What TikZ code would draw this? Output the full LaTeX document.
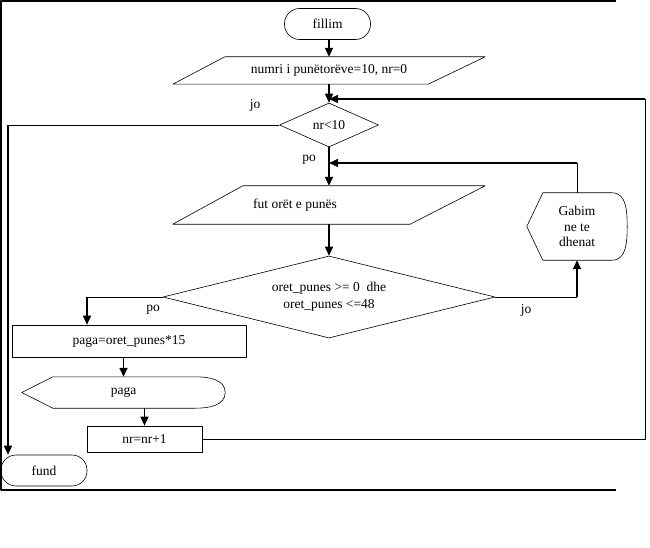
\documentclass[tikz,border=0pt]{standalone}
\usepackage{fontspec}
\setmainfont{Liberation Serif}
\usetikzlibrary{shapes.geometric,arrows.meta}

\begin{document}
\begin{tikzpicture}[x=1pt,y=1pt,line join=round,>={Triangle[length=9pt,width=8pt]},
    font=\fontsize{13.5}{15.5}\selectfont]
  \tikzset{term/.style={draw,line width=0.6pt,rounded corners=15pt,minimum width=86,minimum height=31},
    box/.style={draw,line width=0.6pt,inner sep=0pt},
    cond/.style={draw,line width=0.6pt,diamond,inner sep=0pt,align=center},
    bare/.style={inner sep=0pt,align=center},
    edge/.style={line width=0.6pt},
    flow/.style={->,line width=1.6pt},
    link/.style={line width=0.8pt}}
  \useasboundingbox (0,0) rectangle (650,-548);
  % frame
  \draw[line width=1.5pt] (616,-1) -- (1,-1) -- (1,-490) -- (616,-490);

  % main column
  \node[term] (start) at (327.5,-24) {fillim};
  \node[bare,minimum width=312,minimum height=27] (init) at (329,-70.5) {numri i punëtorëve=10, nr=0};
  \draw[edge] (init.south west) -- ([xshift=-57]init.south east) -- (init.north east) -- ([xshift=52]init.north west) -- cycle;
  \node[cond,aspect=2.25,minimum width=99,minimum height=44] (cnt) at (329,-125) {nr<10};
  \node[bare,minimum width=312,minimum height=38] (read) at (329,-205) {};
  \draw[edge] (read.south west) -- ([xshift=-75]read.south east) -- (read.north east) -- ([xshift=70]read.north west) -- cycle;
  \node (readtxt) at ([xshift=-34]read.center) {fut orët e punës};
  \node[cond,aspect=4.05,minimum width=332,minimum height=82] (check) at (329,-297) {oret\_punes >= 0~~dhe\\[1.5pt]oret\_punes <=48};

  % left branch
  \node[box,minimum width=234,minimum height=32] (pay) at (129,-341) {paga=oret\_punes*15};
  \node[bare,minimum width=203,minimum height=31] (show) at (123.5,-392.5) {paga};
  \draw[edge] (show.west) -- ([xshift=31]show.north west) -- ([xshift=-30]show.north east)
    to[out=0,in=90] (show.east) to[out=-90,in=0] ([xshift=-30]show.south east) -- ([xshift=31]show.south west) -- cycle;
  \node[box,minimum width=115,minimum height=26] (inc) at (144.5,-439) {nr=nr+1};
  \node[term] (end) at (44,-470.5) {fund};

  % error
  \node[bare,minimum width=100,minimum height=67] (err) at (577,-226.5) {Gabim\\ne te\\dhenat};
  \draw[edge] (err.west) -- ([xshift=16]err.north west) -- ([xshift=-15]err.north east)
    to[out=0,in=90] (err.east) to[out=-90,in=0] ([xshift=-15]err.south east) -- ([xshift=16]err.south west) -- cycle;

  % labels
  \node (txtjo1) at (255,-105) {jo};
  \node (txtpo1) at (309,-160) {po};
  \node (txtpo2) at (153,-310) {po};
  \node (txtjo2) at (526,-310) {jo};

  \coordinate (noleft) at (8,-125);
  \coordinate (yesturn) at (87,-297);
  \coordinate (noturn) at (577,-297);
  \coordinate (backtop) at (577,-163);
  \coordinate (looptop) at (645,-99);

  % connectors
  \draw[flow] (start.south -| init.north) -- (init.north);
  \draw[flow] (init.south) -- (cnt.north);
  \draw[flow] (cnt.south) -- (read.north);
  \draw[flow] (read.south) -- (check.north);
  \draw[link] (cnt.west) -- (noleft);
  \draw[flow] (noleft) -- (noleft |- end.north);
  \draw[link] (check.west) -- (yesturn);
  \draw[flow] (yesturn) -- (yesturn |- pay.north);
  \draw[link] (check.east) -- (noturn);
  \draw[flow] (noturn) -- (err.south);
  \draw[link] (err.north) -- (backtop);
  \draw[flow] (backtop) -- (backtop -| read.north);
  \draw[flow] (show.north |- pay.south) -- (show.north);
  \draw[flow] (inc.north |- show.south) -- (inc.north);
  \draw[link] (inc.east) -| (looptop);
  \draw[flow] (looptop) -- (looptop -| cnt.north);
\end{tikzpicture}
\end{document}
